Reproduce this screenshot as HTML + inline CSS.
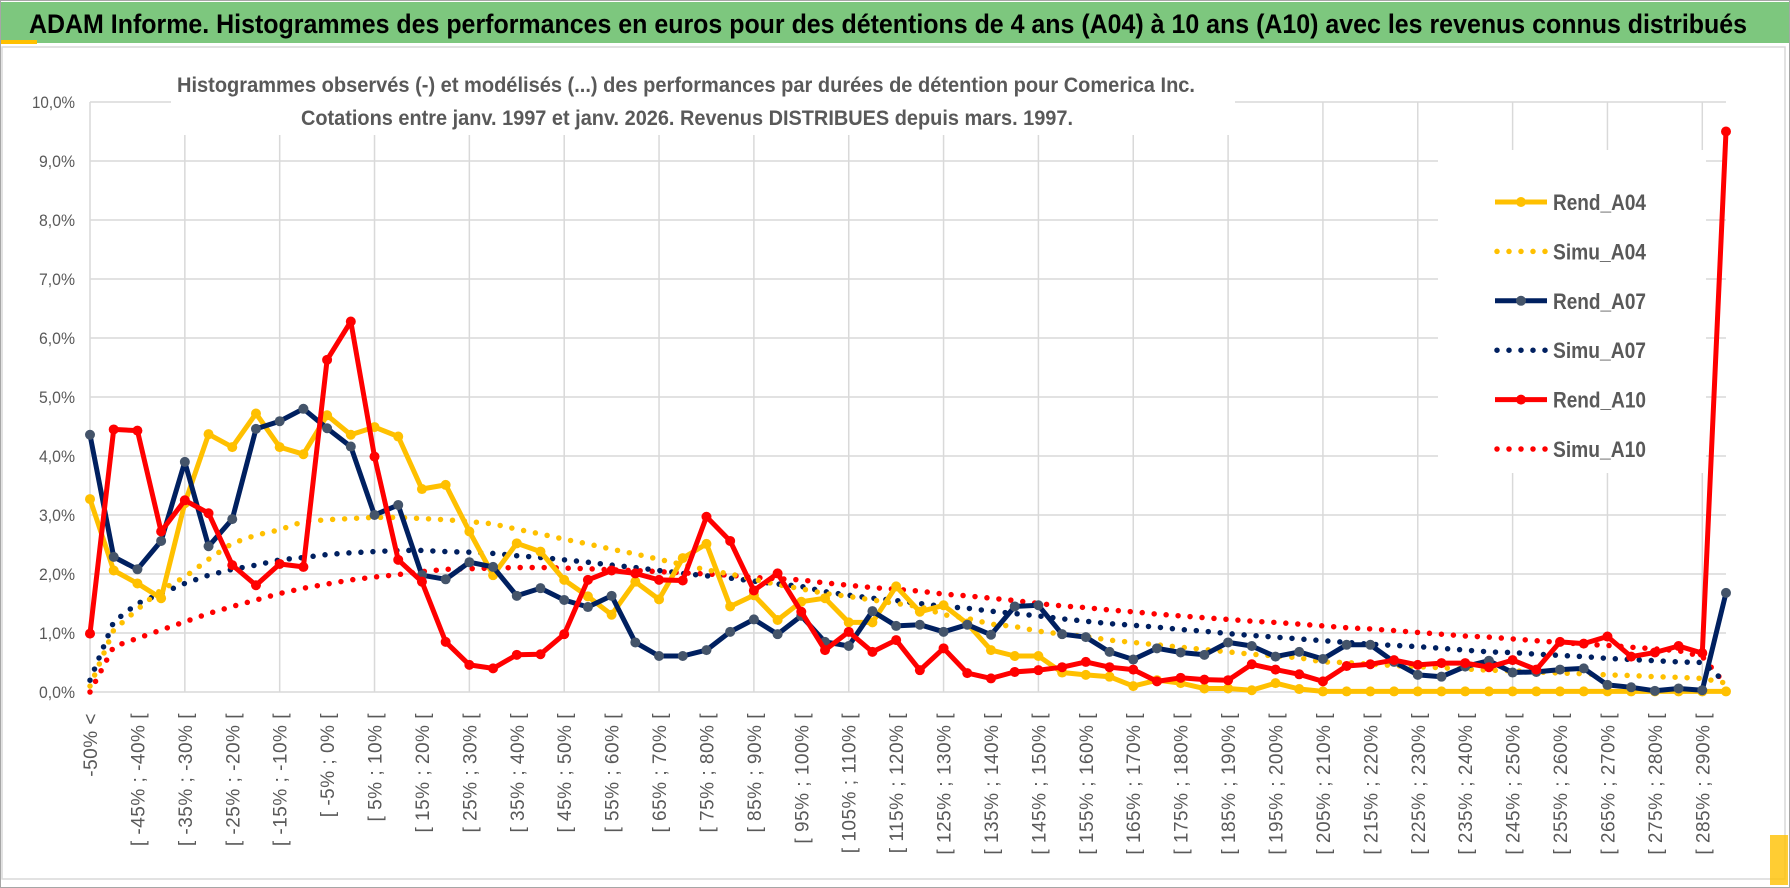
<!DOCTYPE html>
<html><head><meta charset="utf-8"><style>
html,body{margin:0;padding:0;background:#fff;}
svg{display:block;}
text{font-family:"Liberation Sans",sans-serif;}
</style></head><body>
<svg id="chart" width="1790" height="888" viewBox="0 0 1790 888" xmlns="http://www.w3.org/2000/svg">
<rect x="0.5" y="0.5" width="1789" height="887" fill="#fff" stroke="#a6a6a6"/>
<rect x="1" y="2" width="1788" height="41" fill="#7dc77e"/>
<rect x="1" y="40" width="36" height="4" fill="#ffc000"/>
<text x="29" y="33" font-size="27" font-weight="bold" fill="#000" textLength="1718" lengthAdjust="spacingAndGlyphs">ADAM Informe. Histogrammes des performances en euros pour des détentions de 4 ans (A04) à 10 ans (A10) avec les revenus connus distribués</text>
<rect x="2" y="47" width="1783" height="832" fill="none" stroke="#d9d9d9" stroke-width="1.5"/>
<rect x="1770" y="835" width="18" height="50" fill="#ffc000" opacity="0.8"/>
<g id="grid"></g>
<g id="covers">
<rect x="171" y="55" width="1064" height="80" fill="#fff"/>
<rect x="1438" y="150" width="268" height="323" fill="#fff"/>
</g>
<text x="686" y="92" font-size="21" font-weight="bold" fill="#595959" text-anchor="middle" textLength="1018" lengthAdjust="spacingAndGlyphs">Histogrammes observés (-) et modélisés (...) des performances par durées de détention pour Comerica Inc.</text>
<text x="687" y="125" font-size="21" font-weight="bold" fill="#595959" text-anchor="middle" textLength="772" lengthAdjust="spacingAndGlyphs">Cotations entre janv. 1997 et janv. 2026. Revenus DISTRIBUES depuis mars. 1997.</text>
<g id="yticks"></g>
<g id="xticks"></g>
<g id="series"></g>
<g id="legend"></g>
</svg>
<script>
const yTicks = [0,1,2,3,4,5,6,7,8,9,10];
const rendA04 = [3.27,2.06,1.84,1.59,3.2,4.37,4.15,4.72,4.15,4.03,4.69,4.36,4.49,4.33,3.44,3.51,2.72,1.98,2.52,2.38,1.9,1.62,1.31,1.87,1.57,2.27,2.51,1.45,1.64,1.22,1.53,1.59,1.18,1.18,1.79,1.36,1.47,1.16,0.71,0.61,0.61,0.33,0.29,0.26,0.1,0.2,0.15,0.06,0.06,0.03,0.15,0.05,0.01,0.01,0.01,0.01,0.01,0.01,0.01,0.01,0.01,0.01,0.01,0.01,0.01,0.01,0.01,0.01,0.01,0.01];
const simuA04 = [0.1,1.05,1.4,1.73,1.95,2.25,2.52,2.66,2.75,2.89,2.92,2.94,2.96,2.96,2.94,2.92,2.89,2.85,2.76,2.68,2.59,2.51,2.42,2.34,2.25,2.16,2.07,2.0,1.91,1.82,1.75,1.67,1.62,1.56,1.5,1.45,1.31,1.25,1.15,1.11,1.03,0.98,0.94,0.88,0.84,0.8,0.76,0.72,0.68,0.64,0.61,0.58,0.51,0.5,0.47,0.45,0.43,0.41,0.39,0.37,0.36,0.34,0.32,0.31,0.29,0.28,0.26,0.25,0.23,0.15];
const rendA07 = [4.36,2.29,2.08,2.56,3.9,2.47,2.93,4.46,4.59,4.8,4.47,4.16,3.0,3.17,1.98,1.91,2.2,2.12,1.63,1.76,1.56,1.44,1.63,0.84,0.61,0.61,0.71,1.02,1.23,0.98,1.29,0.85,0.78,1.37,1.12,1.14,1.02,1.14,0.97,1.45,1.47,0.98,0.93,0.68,0.55,0.74,0.67,0.63,0.84,0.78,0.6,0.68,0.56,0.8,0.8,0.51,0.29,0.26,0.43,0.53,0.33,0.34,0.38,0.4,0.12,0.08,0.02,0.06,0.03,1.68];
const simuA07 = [0.2,1.19,1.5,1.67,1.84,1.98,2.08,2.15,2.24,2.28,2.33,2.36,2.38,2.4,2.4,2.38,2.37,2.35,2.31,2.28,2.24,2.2,2.15,2.11,2.06,2.01,1.97,1.93,1.88,1.83,1.79,1.7,1.64,1.59,1.55,1.5,1.45,1.42,1.37,1.33,1.29,1.24,1.2,1.16,1.13,1.1,1.06,1.03,0.99,0.96,0.93,0.9,0.87,0.84,0.81,0.79,0.77,0.74,0.71,0.68,0.67,0.64,0.62,0.6,0.57,0.55,0.53,0.51,0.5,0.16];
const rendA10 = [0.99,4.45,4.43,2.72,3.25,3.03,2.15,1.81,2.17,2.12,5.63,6.28,3.99,2.24,1.87,0.85,0.46,0.4,0.63,0.64,0.98,1.9,2.06,2.01,1.9,1.89,2.97,2.56,1.72,2.01,1.36,0.71,1.02,0.68,0.88,0.37,0.74,0.32,0.23,0.34,0.37,0.42,0.51,0.42,0.38,0.18,0.24,0.21,0.2,0.47,0.38,0.3,0.18,0.44,0.47,0.54,0.46,0.49,0.49,0.42,0.54,0.38,0.85,0.82,0.94,0.6,0.67,0.78,0.66,9.5];
const simuA10 = [0,0.77,0.91,1.05,1.19,1.33,1.45,1.56,1.67,1.76,1.83,1.9,1.95,1.99,2.04,2.08,2.09,2.1,2.11,2.11,2.1,2.09,2.07,2.06,2.04,2.02,2.0,1.98,1.94,1.92,1.9,1.85,1.81,1.77,1.74,1.71,1.66,1.63,1.59,1.55,1.5,1.46,1.43,1.39,1.36,1.32,1.29,1.26,1.23,1.2,1.18,1.15,1.12,1.09,1.07,1.04,1.01,0.98,0.95,0.93,0.9,0.87,0.84,0.81,0.79,0.76,0.73,0.7,0.6,0.12];
const seriesNames = ["Rend_A04","Simu_A04","Rend_A07","Simu_A07","Rend_A10","Simu_A10"];

const NS = "http://www.w3.org/2000/svg";
const nCat = rendA04.length;
const X0 = 90, X1 = 1726, Y0 = 692, Y10 = 102;
function xPos(i){ return X0 + i * (X1 - X0) / (nCat - 1); }
function yPos(v){ return Y0 - v * (Y0 - Y10) / 10; }
function catLabel(i){
  if (i === 0) return "-50% <";
  const lo = -50 + 5 * (i - 1);
  return "[ " + lo + "% ; " + (lo + 5) + "% [";
}
function mk(tag, attrs, parent){
  const e = document.createElementNS(NS, tag);
  for (const k in attrs) e.setAttribute(k, attrs[k]);
  parent.appendChild(e);
  return e;
}
const grid = document.getElementById('grid');
yTicks.forEach(t => {
  const l = mk('line', {x1: X0, x2: X1, y1: yPos(t), y2: yPos(t), stroke: '#d9d9d9', 'stroke-width': 1.5}, grid);
  
  
});
for (let i = 0; i < nCat; i += 4) {
  const l = mk('line', {x1: xPos(i), x2: xPos(i), y1: Y10, y2: Y0, stroke: '#d9d9d9', 'stroke-width': 1.5}, grid);
  
  
}
const yt = document.getElementById('yticks');
yTicks.forEach(t => {
  const tx = mk('text', {x: 75, y: yPos(t) + 6, 'font-size': 17, fill: '#595959', 'text-anchor': 'end', textLength: t === 10 ? 43 : 36, lengthAdjust: 'spacingAndGlyphs'}, yt);
  tx.textContent = t.toFixed(1).replace('.', ',') + '%';
  
  
});
const xt = document.getElementById('xticks');
for (let i = 0; i < nCat; i += 2) {
  const x = xPos(i);
  const tx = mk('text', {x: 0, y: 0, 'font-size': 19, fill: '#595959', 'text-anchor': 'end', 'letter-spacing': '0.5', transform: 'translate(' + (x + 7) + ',713) rotate(-90)'}, xt);
  tx.textContent = catLabel(i);
  
  
}
const sg = document.getElementById('series');
function pts(arr){ return arr.map((v, i) => xPos(i).toFixed(1) + ',' + yPos(v).toFixed(1)).join(' '); }
function dotted(arr, color, name){
  const p = mk('polyline', {points: pts(arr), fill: 'none', stroke: color, 'stroke-width': 5.5, 'stroke-linecap': 'round', 'stroke-dasharray': '0 12'}, sg);
  
  
}
function solid(arr, color, mcolor, name){
  const p = mk('polyline', {points: pts(arr), fill: 'none', stroke: color, 'stroke-width': 5, 'stroke-linejoin': 'round'}, sg);
  
  
  arr.forEach((v, i) => {
    const c = mk('circle', {cx: xPos(i), cy: yPos(v), r: 5, fill: mcolor}, sg);
    
    
  });
}
dotted(simuA10, '#ff0000', 'simu-a10-line');
dotted(simuA07, '#002060', 'simu-a07-line');
dotted(simuA04, '#ffc000', 'simu-a04-line');
solid(rendA04, '#ffc000', '#ffc000', 'rend-a04-line');
solid(rendA07, '#002060', '#44546a', 'rend-a07-line');
solid(rendA10, '#ff0000', '#ff0000', 'rend-a10-line');

const lg = document.getElementById('legend');
const legColors = ['#ffc000','#ffc000','#002060','#002060','#ff0000','#ff0000'];
const legMarkers = ['#ffc000',null,'#44546a',null,'#ff0000',null];
const legY0 = 202, legStep = 49.4;
seriesNames.forEach((nm, k) => {
  const y = legY0 + k * legStep;
  const g = mk('g', {}, lg);
  
  
  if (k % 2 === 0) {
    mk('line', {x1: 1495, x2: 1547, y1: y, y2: y, stroke: legColors[k], 'stroke-width': 5}, g);
    mk('circle', {cx: 1521, cy: y, r: 5, fill: legMarkers[k]}, g);
  } else {
    mk('line', {x1: 1497, x2: 1547, y1: y, y2: y, stroke: legColors[k], 'stroke-width': 5.5, 'stroke-linecap': 'round', 'stroke-dasharray': '0 12'}, g);
  }
  const t = mk('text', {x: 1553, y: y + 8, 'font-size': 22, 'font-weight': 'bold', fill: '#595959', textLength: 93, lengthAdjust: 'spacingAndGlyphs'}, g);
  t.textContent = nm;
});
</script>
</body></html>
